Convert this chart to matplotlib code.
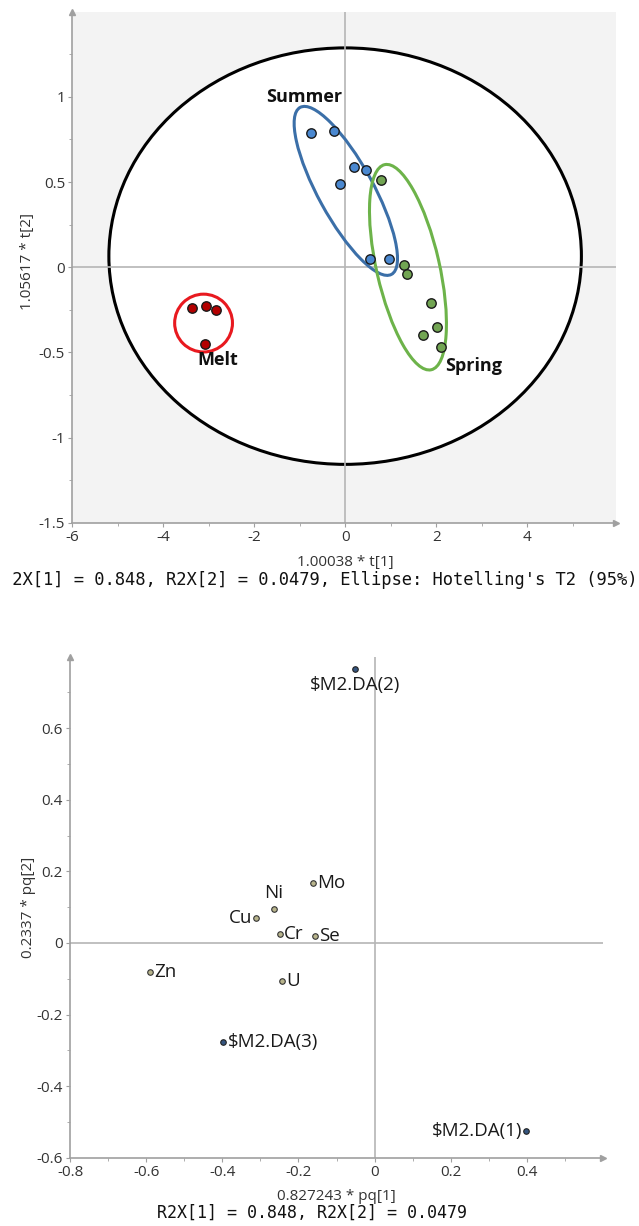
import numpy as np
import matplotlib.pyplot as plt
from matplotlib.patches import Ellipse
from matplotlib.transforms import Affine2D, Bbox, TransformedBbox

plt.rcParams['font.family'] = ['Open Sans', 'DejaVu Sans']
plt.rcParams['axes.unicode_minus'] = False

# ---- score plot (t[1] / t[2]) ----
summer_t1 = [-0.74, -0.24, 0.20, 0.45, -0.11, 0.54, 0.96]
summer_t2 = [0.79, 0.80, 0.59, 0.57, 0.49, 0.05, 0.05]
spring_t1 = [0.79, 1.30, 1.36, 1.88, 2.02, 1.70, 2.11]
spring_t2 = [0.51, 0.01, -0.04, -0.21, -0.35, -0.40, -0.47]
melt_t1 = [-3.37, -3.05, -2.83, -3.07]
melt_t2 = [-0.24, -0.23, -0.25, -0.45]

# group ellipses: centre (t1, t2), width/height in t1 units, angle (deg, screen)
grp_names = ['Summer', 'Spring', 'Melt']
grp_cx = [0.015, 1.38, -3.11]
grp_cy = [0.448, 0.0, -0.328]
grp_w = [4.18, 4.62, 1.27]
grp_h = [1.21, 1.38, 1.27]
grp_ang = [-61.3, -77.2, 0]
grp_lab_x = [-0.9, 2.82, -2.79]
grp_lab_y = [1.0, -0.578, -0.543]

# Hotelling T2 ellipse
t2_cx, t2_cy, t2_w, t2_h = 0.0, 0.065, 10.38, 2.445

# ---- loading plot (pq[1] / pq[2]) ----
var_names = ['Mo', 'Ni', 'Cu', 'Cr', 'Se', 'Zn', 'U']
var_pq1 = [-0.161, -0.264, -0.311, -0.249, -0.157, -0.589, -0.244]
var_pq2 = [0.169, 0.095, 0.070, 0.026, 0.019, -0.081, -0.107]
var_pos = ['right', 'above', 'left', 'right', 'right', 'right', 'right']
da_names = [r'\$M2.DA(1)', r'\$M2.DA(2)', r'\$M2.DA(3)']
da_pq1 = [0.398, -0.051, -0.397]
da_pq2 = [-0.525, 0.766, -0.276]
da_pos = ['left', 'below', 'right']

W, H = 639, 1226
fig = plt.figure(figsize=(W / 100, H / 100), dpi=100)

axc = '#a0a0a0'
tickc = '#333333'


def style_axes(ax):
    for s in ['top', 'right']:
        ax.spines[s].set_visible(False)
    for s in ['left', 'bottom']:
        ax.spines[s].set_color(axc)
        ax.spines[s].set_linewidth(1.2)
    ax.tick_params(which='major', direction='out', length=3, color=axc,
                   labelsize=11, labelcolor=tickc, pad=2)
    ax.tick_params(which='minor', direction='out', length=2, color=axc)
    ax.plot(0, 1, '^', color=axc, ms=4, transform=ax.transAxes, clip_on=False)
    ax.plot(1, 0, '>', color=axc, ms=4, transform=ax.transAxes, clip_on=False)
    ax.axhline(0, color='#b5b5b5', lw=1.2, zorder=1)
    ax.axvline(0, color='#b5b5b5', lw=1.2, zorder=1)


# ---------- top: scores ----------
ax1 = fig.add_axes([72 / W, 1 - 522.7 / H, 544 / W, 511 / H])
ax1.set_facecolor('#f3f3f3')
ax1.set_xlim(-6, 5.95)
ax1.set_ylim(-1.5, 1.5)
style_axes(ax1)
ax1.set_xticks([-6, -4, -2, 0, 2, 4])
ax1.set_xticklabels(['-6', '-4', '-2', '0', '2', '4'])
ax1.set_xticks([-5, -3, -1, 1, 3, 5], minor=True)
ax1.set_yticks([-1.5, -1, -0.5, 0, 0.5, 1])
ax1.set_yticklabels(['-1.5', '-1', '-0.5', '0', '0.5', '1'])
ax1.set_yticks([-1.25, -0.75, -0.25, 0.25, 0.75, 1.25], minor=True)

ax1.add_patch(Ellipse((t2_cx, t2_cy), t2_w, t2_h, facecolor='white',
                      edgecolor='black', lw=2.2, zorder=0.5))

# screen aspect: pixels per t2 unit / pixels per t1 unit
pos = ax1.get_position()
k = (pos.height * H / 3.0) / (pos.width * W / 11.95)
sq = Affine2D().scale(1, 1 / k) + ax1.transData
grp_edge = ['#3b6fa8', '#6db34a', '#e8191f']
for i in range(3):
    ax1.add_patch(Ellipse((grp_cx[i], grp_cy[i] * k), grp_w[i], grp_h[i],
                          angle=grp_ang[i], fill=False, edgecolor=grp_edge[i],
                          lw=2.2, transform=sq, zorder=2))

ax1.scatter(summer_t1, summer_t2, s=46, c='#4a88d0', edgecolors='#1a1a1a',
            linewidths=1, zorder=3)
ax1.scatter(spring_t1, spring_t2, s=46, c='#72a553', edgecolors='#1a1a1a',
            linewidths=1, zorder=3)
ax1.scatter(melt_t1, melt_t2, s=46, c='#b30000', edgecolors='#1a1a1a',
            linewidths=1, zorder=3)

for i in range(3):
    ax1.text(grp_lab_x[i], grp_lab_y[i], grp_names[i], fontsize=13,
             fontweight='bold', color='#111111', ha='center', va='center',
             zorder=4)

fig.text(345 / W, 1 - 562 / H, '1.00038 * t[1]', ha='center', va='center',
         fontsize=11, color='#333333')
fig.text(28 / W, 1 - 262 / H, '1.05617 * t[2]', ha='center', va='center',
         fontsize=11, color='#333333', rotation=90)
foot = fig.text(637 / W, 1 - 580 / H,
                "R2X[1] = 0.848, R2X[2] = 0.0479, Ellipse: Hotelling's T2 (95%)",
                ha='right', va='center', fontsize=12.3, color='#111111',
                family='DejaVu Sans Mono')
# the left edge of this line is cut off in the original
foot.set_clip_box(TransformedBbox(Bbox([[12.5 / W, 0], [1, 1]]), fig.transFigure))
foot.set_clip_on(True)

# ---------- bottom: loadings ----------
ax2 = fig.add_axes([70 / W, 1 - 1157.7 / H, 533 / W, 501 / H])
ax2.set_facecolor('white')
ax2.set_xlim(-0.8, 0.6)
ax2.set_ylim(-0.6, 0.8)
style_axes(ax2)
ax2.set_xticks([-0.8, -0.6, -0.4, -0.2, 0, 0.2, 0.4])
ax2.set_xticklabels(['-0.8', '-0.6', '-0.4', '-0.2', '0', '0.2', '0.4'])
ax2.set_xticks([-0.7, -0.5, -0.3, -0.1, 0.1, 0.3, 0.5], minor=True)
ax2.set_yticks([-0.6, -0.4, -0.2, 0, 0.2, 0.4, 0.6])
ax2.set_yticklabels(['-0.6', '-0.4', '-0.2', '0', '0.2', '0.4', '0.6'])
ax2.set_yticks([-0.5, -0.3, -0.1, 0.1, 0.3, 0.5, 0.7], minor=True)

ax2.scatter(var_pq1, var_pq2, s=16, c='#b8b48c', edgecolors='#333333',
            linewidths=0.8, zorder=3)
ax2.scatter(da_pq1, da_pq2, s=16, c='#35557f', edgecolors='#222222',
            linewidths=0.8, zorder=3)

offs = {'right': ((3, 0), 'left', 'center'),
        'left': ((-3, 0), 'right', 'center'),
        'above': ((0, 5), 'center', 'bottom'),
        'below': ((0, -5), 'center', 'top')}


def put_labels(xs, ys, names, where):
    for x, y, n, p in zip(xs, ys, names, where):
        o, ha, va = offs[p]
        ax2.annotate(n, (x, y), xytext=o, textcoords='offset points',
                     ha=ha, va=va, fontsize=13.5, color='#1a1a1a', zorder=4)


put_labels(var_pq1, var_pq2, var_names, var_pos)
put_labels(da_pq1, da_pq2, da_names, da_pos)

fig.text(336.5 / W, 1 - 1196 / H, '0.827243 * pq[1]', ha='center', va='center',
         fontsize=11, color='#333333')
fig.text(28 / W, 1 - 907 / H, '0.2337 * pq[2]', ha='center', va='center',
         fontsize=11, color='#333333', rotation=90)
fig.text(312 / W, 1 - 1213 / H, 'R2X[1] = 0.848, R2X[2] = 0.0479',
         ha='center', va='center', fontsize=12, color='#111111',
         family='DejaVu Sans Mono')

fig.savefig('out.png', dpi=100)
